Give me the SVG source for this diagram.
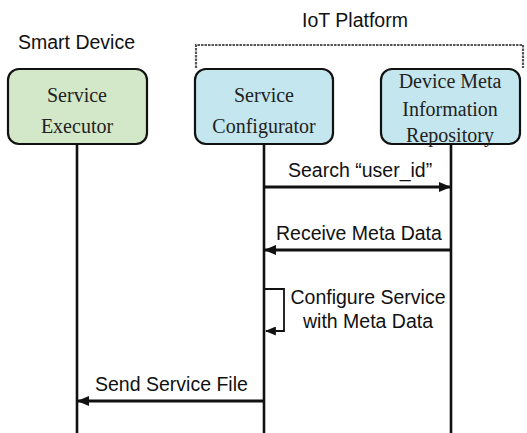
<svg xmlns="http://www.w3.org/2000/svg" width="527" height="433" viewBox="0 0 527 433">
<defs>
<style>
.box{stroke:#111;stroke-width:2.2}
.serif{font-family:"Liberation Serif","Times New Roman",serif;font-size:20px;fill:#222;text-anchor:middle}
.sans{font-family:"Liberation Sans",Arial,sans-serif;font-size:19.5px;fill:#111}
.life{stroke:#111;stroke-width:2.6;fill:none}
.msg{stroke:#111;stroke-width:2.8;fill:none}
</style>
<marker id="ah" viewBox="0 0 12 10" refX="11" refY="5" markerWidth="12" markerHeight="10" markerUnits="userSpaceOnUse" orient="auto">
<path d="M0,0 L12,5 L0,10 Z" fill="#111"/>
</marker>
<marker id="ahs" viewBox="0 0 12 10" refX="11" refY="5" markerWidth="11" markerHeight="9" markerUnits="userSpaceOnUse" orient="auto">
<path d="M0,0 L12,5 L0,10 Z" fill="#111"/>
</marker>
</defs>
<rect width="527" height="433" fill="#fff"/>
<g id="labels">
<text class="sans" x="18" y="49">Smart Device</text>
<text class="sans" x="355" y="27" text-anchor="middle">IoT Platform</text>
<path d="M196,68 V45 H523 V68" fill="none" stroke="#555" stroke-width="2.2" stroke-dasharray="2.5,1"/>
</g>
<g id="connectors">
<line class="life" x1="77" y1="144" x2="77" y2="433"/>
<line class="life" x1="264" y1="144" x2="264" y2="433"/>
<line class="life" x1="451" y1="144" x2="451" y2="433"/>
<line class="msg" x1="264" y1="187" x2="450" y2="187" marker-end="url(#ah)"/>
<text class="sans" x="288" y="177">Search “user_id”</text>
<line class="msg" x1="451" y1="250" x2="265" y2="250" marker-end="url(#ah)"/>
<text class="sans" x="276" y="240">Receive Meta Data</text>
<path d="M265,289 H284 V331 H266" fill="none" stroke="#111" stroke-width="1.8" marker-end="url(#ahs)"/>
<text class="sans" x="368" y="304" text-anchor="middle">Configure Service</text>
<text class="sans" x="368" y="328" text-anchor="middle">with Meta Data</text>
<line class="msg" x1="264" y1="401" x2="78" y2="401" marker-end="url(#ah)"/>
<text class="sans" x="95" y="391">Send Service File</text>
</g>
<g id="executor">
<rect class="box" x="8" y="69" width="139" height="75" rx="11" fill="#d3e7c9"/>
<text class="serif" x="77" y="102">Service</text>
<text class="serif" x="77" y="133">Executor</text>
</g>
<g id="configurator">
<rect class="box" x="195" y="69" width="138" height="75" rx="11" fill="#c4e6ee"/>
<text class="serif" x="264" y="102">Service</text>
<text class="serif" x="264" y="133">Configurator</text>
</g>
<g id="repository">
<rect class="box" x="381" y="69" width="139" height="75" rx="11" fill="#c4e6ee"/>
<text class="serif" x="450" y="88" font-size="19">Device Meta</text>
<text class="serif" x="450" y="116" font-size="19">Information</text>
<text class="serif" x="450" y="142" font-size="19">Repository</text>
</g>
</svg>
